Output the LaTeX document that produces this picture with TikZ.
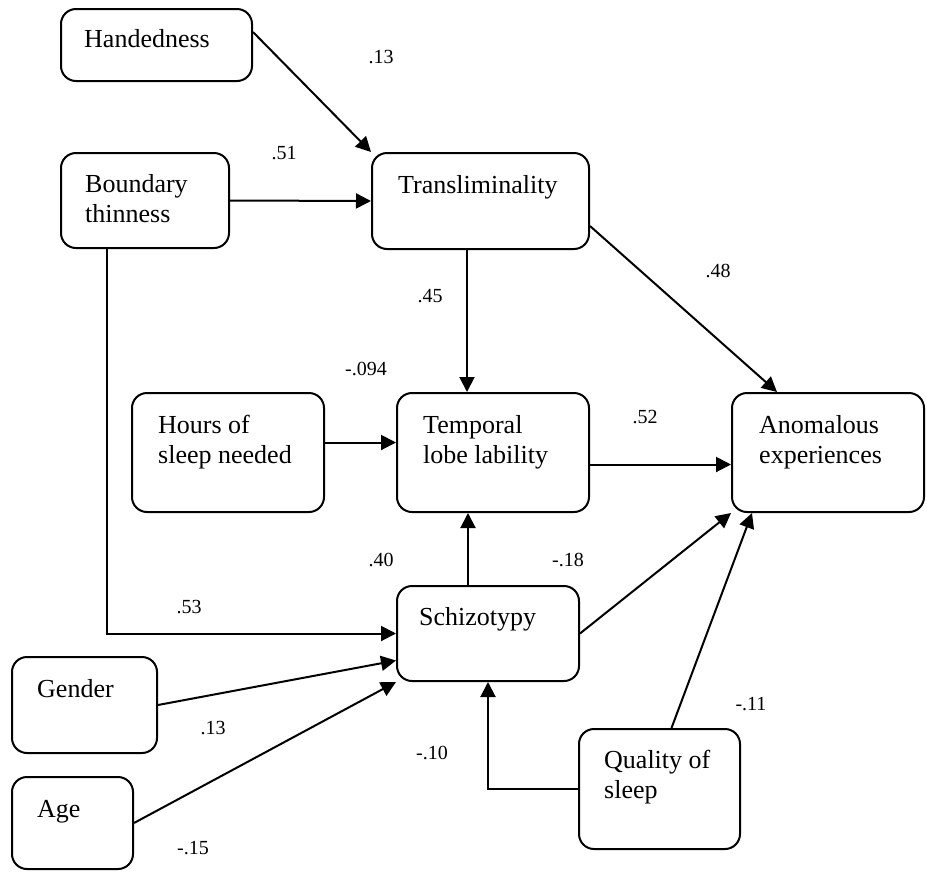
\documentclass[tikz,border=0pt]{standalone}
\usepackage{fontspec}
\setmainfont{Liberation Serif}
\usetikzlibrary{arrows.meta,calc}
\begin{document}
\begin{tikzpicture}[x=1pt,y=-1pt,
  box/.style={draw, line width=2pt, rounded corners=15pt, inner sep=0pt},
  txt/.style={inner sep=0pt, anchor=base west, align=left, font=\fontsize{26}{29.5}\selectfont},
  coef/.style={inner sep=0pt, font=\fontsize{20}{24}\selectfont},
  arr/.style={line width=2pt, -{Triangle[length=15pt,width=15pt]}}]
\useasboundingbox[fill=white] (0,0) rectangle (927,871);

% boxes
\node[box, minimum width=191pt, minimum height=72pt]  (hand)   at (156.5,45)  {};
\node[box, minimum width=168pt, minimum height=95pt]  (bound)  at (145,200.5) {};
\node[box, minimum width=217pt, minimum height=96pt]  (trans)  at (480.5,201) {};
\node[box, minimum width=192pt, minimum height=119pt] (hours)  at (228,452.5) {};
\node[box, minimum width=192pt, minimum height=119pt] (temp)   at (493,452.5) {};
\node[box, minimum width=192pt, minimum height=119pt] (anom)   at (828,452.5) {};
\node[box, minimum width=182pt, minimum height=95pt]  (schizo) at (488,633.5) {};
\node[box, minimum width=145pt, minimum height=96pt]  (gender) at (84.5,705)  {};
\node[box, minimum width=121pt, minimum height=92pt]  (age)    at (72.5,823)  {};
\node[box, minimum width=161pt, minimum height=120pt] (qual)   at (659.5,789) {};

% box texts (anchor = baseline of last line)
\node[txt] (handT)   at (84,47)   {Handedness};
\node[txt] (boundT)  at (85,222)  {Boundary\\thinness};
\node[txt] (transT)  at (398,193) {Transliminality};
\node[txt] (hoursT)  at (158,463) {Hours of\\sleep needed};
\node[txt] (tempT)   at (423,463) {Temporal\\lobe lability};
\node[txt] (anomT)   at (759,463) {Anomalous\\experiences};
\node[txt] (schizoT) at (419,625) {Schizotypy};
\node[txt] (genderT) at (37,697)  {Gender};
\node[txt] (ageT)    at (37,817)  {Age};
\node[txt] (qualT)   at (604,798) {Quality of\\sleep};

% connectors
\draw[arr] ($(hand.north east)+(0,24)$) -- (trans.north west);
\draw[arr] (bound.east) -- (trans.west);
\draw[arr] ($(trans.south west)+(96,0)$) coordinate (tA) -- (tA |- temp.north);
\draw[arr] ($(trans.east)+(0,25)$) -- ($(anom.north west)+(46,0)$);
\draw[arr] ($(hours.east)+(0,-10)$) coordinate (hA) -- (hA -| temp.west);
\draw[arr] ($(temp.east)+(0,12)$) coordinate (eA) -- (eA -| anom.west);
\draw[arr] ($(schizo.north west)+(72,0)$) coordinate (sA) -- (sA |- temp.south);
\draw[arr] ($(bound.south west)+(47,0)$) |- (schizo.west);
\draw[arr] (gender.east) -- ($(schizo.west)+(0,27)$);
\draw[arr] (age.east) -- (schizo.south west);
\draw[arr] (qual.west) -| (schizo.south);
\draw[arr] ($(qual.north)+(12,0)$) -- ($(anom.south west)+(21,0)$);
\draw[arr] (schizo.east) -- (anom.south west);

% coefficients
\node[coef] (c1)  at (381,57)  {.13};
\node[coef] (c2)  at (284,153) {.51};
\node[coef] (c3)  at (430,296) {.45};
\node[coef] (c4)  at (718,271) {.48};
\node[coef] (c5)  at (366,369) {-.094};
\node[coef] (c6)  at (645,417) {.52};
\node[coef] (c7)  at (381,560) {.40};
\node[coef] (c8)  at (568,560) {-.18};
\node[coef] (c9)  at (189,607) {.53};
\node[coef] (c10) at (213,728) {.13};
\node[coef] (c11) at (751,704) {-.11};
\node[coef] (c12) at (432,753) {-.10};
\node[coef] (c13) at (193,848) {-.15};
\end{tikzpicture}
\end{document}
